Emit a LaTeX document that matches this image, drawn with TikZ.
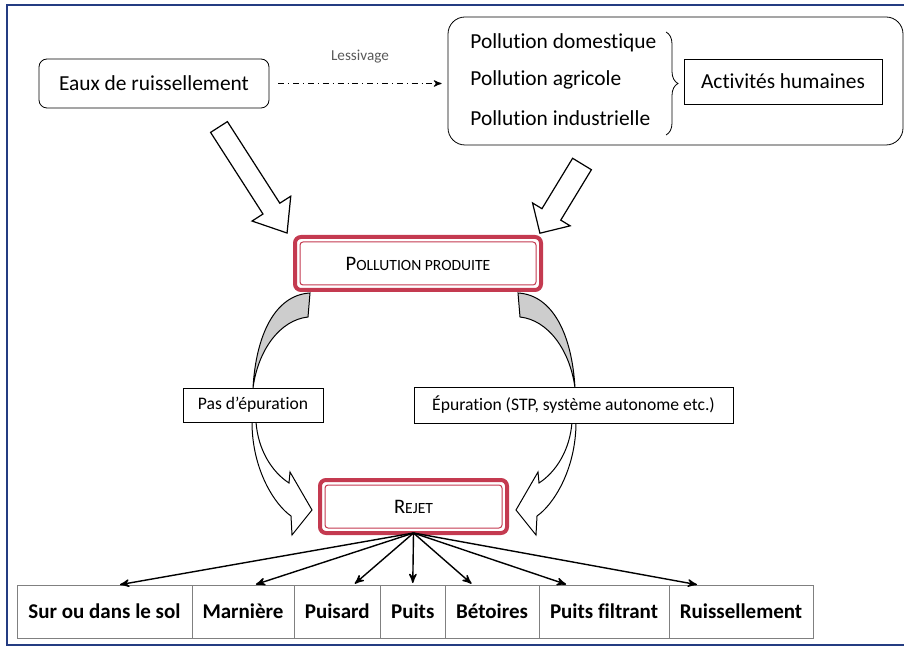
\documentclass[tikz,border=0pt]{standalone}
\usepackage{fontspec}
\setmainfont{Carlito}[Ligatures=NoCommon]
\usepackage{xcolor}
\usepackage{tikz}
\usetikzlibrary{arrows}
\usetikzlibrary{positioning}
\usetikzlibrary{decorations.pathreplacing}
\definecolor{rouge}{RGB}{196,58,80}
\definecolor{bleu}{RGB}{36,60,130}
\definecolor{grisclair}{RGB}{205,205,205}
\definecolor{grisbord}{RGB}{128,128,128}
\tikzset{
	main box/.style={draw,rounded corners=4pt,font=\fontsize{10.7}{13}\selectfont},
	red box/.style={draw=rouge,line width=2pt,rounded corners=3pt,fill=white,inner sep=0pt,outer sep=0pt,
		minimum height=26.5pt,font=\fontsize{10.3}{12}\selectfont},
	label box/.style={draw,fill=white,inner sep=0pt,font=\fontsize{8.8}{11}\selectfont},
	leaf/.style={draw=grisbord,inner sep=0pt,outer sep=0pt,minimum height=26.5pt,
		font=\bfseries\fontsize{10.5}{12}\selectfont},
	src text/.style={anchor=west,inner sep=0pt,font=\fontsize{10.7}{13}\selectfont},
	big arrow/.style={draw,line width=0.6pt,fill=white,line join=miter},
	curved/.style={draw,line width=0.5pt}
}
\newcommand{\pcaps}[1]{{\fontsize{7.8}{9}\selectfont #1}}

\begin{document}
\begin{tikzpicture}[x=0.5pt,y=-0.5pt,>=stealth']
	\useasboundingbox (0,0) rectangle (904,646);
	\draw [bleu,line width=1pt] (904,5) -- (7,5) -- (7,645) -- (904,645);

	% sources
	\node [main box,minimum width=115pt,minimum height=24.5pt] (eaux) at (154,83.5) {Eaux de ruissellement};
	\node [draw,rounded corners=8.5pt,minimum width=227.5pt,minimum height=64pt] (sources) at (675.5,81) {};
	\node [src text] (dom) at (470,43) {Pollution domestique};
	\node [src text] (agr) at (470,80) {Pollution agricole};
	\node [src text] (ind) at (470,118) {Pollution industrielle};
	\node [draw,minimum width=99pt,minimum height=22.5pt,font=\fontsize{10.7}{13}\selectfont] (activ) at (783,81.5) {Activités humaines};
	\draw [decorate,decoration={brace,amplitude=6pt}] (666,32) -- (666,135);
	\draw [->,dash dot,line width=0.5pt,shorten <=4.5pt,shorten >=3pt] (eaux.east) -- (eaux.east -| sources.west);
	\node [font=\fontsize{7.6}{9}\selectfont,text=black!65] (lessiv) at (360,57) {Lessivage};

	% grosses fleches
	\draw [big arrow,shift={(219,127)},rotate=-57.3] (0,-10) -- (97,-10) -- (97,-23) -- (126,0) -- (97,23) -- (97,10) -- (0,10) -- cycle;
	\draw [big arrow,shift={(582,164)},rotate=-121.3] (0,-11) -- (59,-11) -- (59,-22) -- (81,0) -- (59,22) -- (59,11) -- (0,11) -- cycle;

	% fleches courbes
	\foreach \sx/\dx in {1/0,-1/828}
	{
	\begin{scope}[shift={(\dx,0)},xscale=\sx]
		\filldraw [curved,fill=grisclair] (310,293) .. controls (275,295) and (256,335) .. (253,388)
			.. controls (258,350) and (280,320) .. (308,317) -- cycle;
		\filldraw [curved,fill=white] (252,422) .. controls (252,470) and (275,505) .. (291,516) -- (292,535)
			-- (312,510) -- (290,472) -- (289,483) .. controls (272,472) and (258,450) .. (256,422) -- cycle;
	\end{scope}
	}

	\node [red box,minimum width=123pt] (pp) at (418,263.5) {P\pcaps{OLLUTION PRODUITE}};
	\draw [rouge,line width=0.5pt,rounded corners=1.5pt] ([shift={(2.5pt,-2.5pt)}]pp.north west) rectangle ([shift={(-2.5pt,2.5pt)}]pp.south east);
	\node [label box,minimum width=70pt,minimum height=17pt] (pas) at (253,405) {Pas d’épuration};
	\node [label box,minimum width=159.5pt,minimum height=18pt] (epur) at (573.5,405) {Épuration (STP, système autonome etc.)};
	\node [red box,minimum width=93.5pt] (rejet) at (413.5,506.5) {R\pcaps{EJET}};
	\draw [rouge,line width=0.5pt,rounded corners=1.5pt] ([shift={(2.5pt,-2.5pt)}]rejet.north west) rectangle ([shift={(-2.5pt,2.5pt)}]rejet.south east);

	% rejets
	\node [leaf,minimum width=87.5pt,anchor=west] (sol) at (17,611.5) {Sur ou dans le sol};
	\node [leaf,minimum width=51pt,right=0pt of sol] (marniere) {Marnière};
	\node [leaf,minimum width=43.25pt,right=0pt of marniere] (puisard) {Puisard};
	\node [leaf,minimum width=32.25pt,right=0pt of puisard] (puits) {Puits};
	\node [leaf,minimum width=47pt,right=0pt of puits] (betoires) {Bétoires};
	\node [leaf,minimum width=65pt,right=0pt of betoires] (filtrant) {Puits filtrant};
	\node [leaf,minimum width=72pt,right=0pt of filtrant] (ruiss) {Ruissellement};
	\foreach \cible/\dx in {sol/6.75pt,marniere/5.5pt,puisard/8pt,puits/0pt,betoires/-9.5pt,filtrant/-18pt,ruiss/-21pt}
		\draw [->,line width=0.7pt,shorten >=1pt] (rejet.south) -- ([xshift=\dx]\cible.north);
\end{tikzpicture}
\end{document}
